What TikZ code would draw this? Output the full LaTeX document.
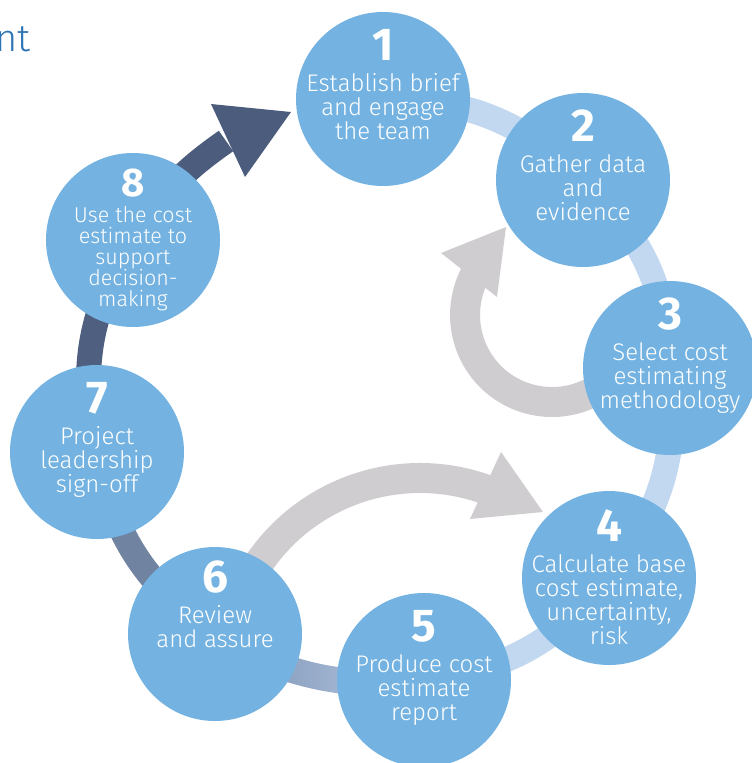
\documentclass[tikz,border=0pt]{standalone}
\usepackage{fontspec}
\setmainfont{Fira Sans Light}
\newfontfamily\numfont{Fira Sans}
\usetikzlibrary{backgrounds}
\definecolor{stagefill}{HTML}{74B3E1}
\definecolor{lightring}{HTML}{C1D8F0}
\definecolor{midring}{HTML}{7083A1}
\definecolor{darkring}{HTML}{4E5F7F}
\definecolor{navy}{HTML}{4B5C7C}
\definecolor{greyc}{HTML}{D0CDD1}
\definecolor{titleblue}{HTML}{2E75B6}
\definecolor{gradA}{HTML}{7A8FB0}
\definecolor{gradB}{HTML}{B8CCE6}
\begin{document}
\begin{tikzpicture}[x=1pt,y=-1pt,
  stage/.style={circle, fill=stagefill, minimum size=174pt, inner sep=0pt},
  stagetext/.style={text=white, align=center, anchor=north, inner sep=0pt, font=\fontsize{24}{24}\selectfont},
  smalltext/.style={stagetext, font=\fontsize{21.5}{21}\selectfont},
  ringband/.style={line width=25pt},
  greyband/.style={draw=greyc, line width=30pt},
]
\useasboundingbox (0,0) rectangle (752,763);

% stages
\node[stage] (n1) at (383,99) {};
\node[stage] (n2) at (583,180) {};
\node[stage] (n3) at (670,368) {};
\node[stage] (n4) at (609,578) {};
\node[stage] (n5) at (424,680) {};
\node[stage] (n6) at (215,634) {};
\node[stage] (n7) at (97,452) {};
\node[stage] (n8) at (133,240) {};

\coordinate (rc) at (379,387);
\coordinate (ahbase) at (226,141);
\coordinate (ahA) at (211,104);
\coordinate (ahTip) at (291,112);
\coordinate (ahB) at (245,177);
\coordinate (g1c) at (552,315);
\coordinate (g1A) at (441,253);
\coordinate (g1Tip) at (506,227);
\coordinate (g1B) at (497,297);
\coordinate (g2c) at (420,673);
\coordinate (g2A) at (501,452);
\coordinate (g2Tip) at (543,512);
\coordinate (g2B) at (470,519);

\begin{scope}[on background layer]
  \draw[ringband, draw=lightring] (n1.center) to[bend left=22] (n2.center);
  \draw[ringband, draw=lightring] (n2.center) to[bend left=22] (n3.center);
  \draw[ringband, draw=lightring] (n3.center) to[bend left=22] (n4.center);
  \draw[ringband, draw=lightring] (n4.center) to[bend left=22] (n5.center);
  \begin{scope}
    \clip ([shift={(80:283)}]rc) arc[start angle=80, end angle=125, radius=283]
      -- ([shift={(125:309)}]rc) arc[start angle=125, end angle=80, radius=309] -- cycle;
    \shade[left color=gradA, right color=gradB] (215,560) rectangle (424,763);
  \end{scope}
  \draw[ringband, draw=midring] (n6.center) to[bend left=22] (n7.center);
  \draw[ringband, draw=darkring] (n7.center) to[bend left=22] (n8.center);
  \draw[ringband, draw=navy] (n8.center) to[bend left=12] (ahbase);
  \fill[navy] (ahA) -- (ahTip) -- (ahB) -- cycle;
  % grey loop 3 -> 2
  \draw[greyband] ([shift={(60:87)}]g1c) arc[start angle=60, end angle=210, radius=87];
  \fill[greyc] (g1A) -- (g1Tip) -- (g1B) -- cycle;
  % grey arc 6 -> 4
  \draw[greyband] ([shift={(210:195)}]g2c) arc[start angle=210, end angle=290, radius=195];
  \fill[greyc] (g2A) -- (g2Tip) -- (g2B) -- cycle;
\end{scope}

\node[anchor=base east, inner sep=0pt, text=titleblue, font=\fontsize{38}{38}\selectfont] (title) at (31,51) {nt};

\node[stagetext] (t1) at ([yshift=-17pt]n1.north) {{\numfont\bfseries\fontsize{46}{46}\selectfont 1}\\[7pt]Establish brief\\and engage\\the team};
\node[stagetext] (t2) at ([yshift=-17pt]n2.north) {{\numfont\bfseries\fontsize{46}{46}\selectfont 2}\\[7pt]Gather data\\and\\evidence};
\node[stagetext] (t3) at ([yshift=-17pt]n3.north) {{\numfont\bfseries\fontsize{46}{46}\selectfont 3}\\[7pt]Select cost\\estimating\\methodology};
\node[stagetext] (t4) at ([yshift=-19pt]n4.north) {{\numfont\bfseries\fontsize{46}{46}\selectfont 4}\\[7pt]Calculate base\\cost estimate,\\uncertainty,\\risk};
\node[stagetext] (t5) at ([yshift=-17pt]n5.north) {{\numfont\bfseries\fontsize{46}{46}\selectfont 5}\\[7pt]Produce cost\\estimate\\report};
\node[stagetext] (t6) at ([yshift=-14pt]n6.north) {{\numfont\bfseries\fontsize{46}{46}\selectfont 6}\\[7pt]Review\\and assure};
\node[stagetext] (t7) at ([yshift=-17pt]n7.north) {{\numfont\bfseries\fontsize{46}{46}\selectfont 7}\\[7pt]Project\\leadership\\sign-off};
\node[smalltext] (t8) at ([yshift=-16pt]n8.north) {{\numfont\bfseries\fontsize{40}{40}\selectfont 8}\\[5pt]Use the cost\\estimate to\\support\\decision-\\making};
\end{tikzpicture}
\end{document}
